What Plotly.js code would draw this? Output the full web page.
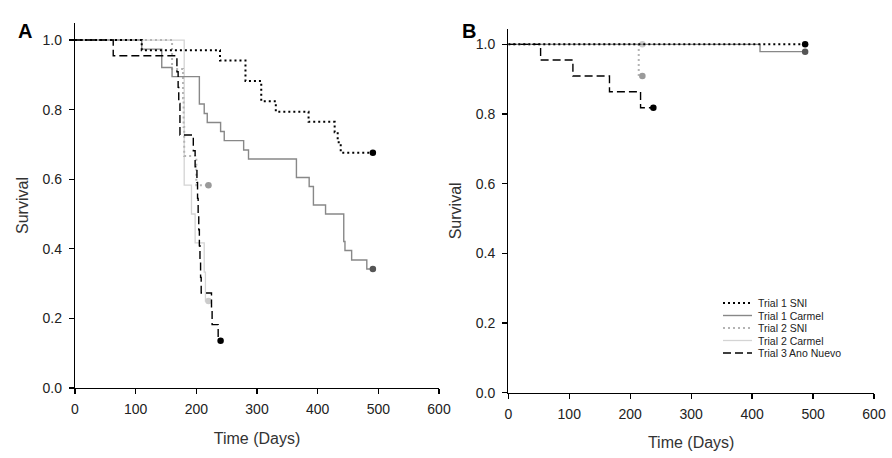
<!DOCTYPE html>
<html>
<head>
<meta charset="utf-8">
<script src="https://cdn.plot.ly/plotly-3.0.1.min.js"></script>
<style>
  html, body { margin: 0; padding: 0; background: #fff; }
  #chart { width: 892px; height: 458px; }
</style>
</head>
<body>
<div id="chart"></div>
<script>
// Kaplan-Meier steps (days, survival)
// Panel A
const a_sni1_t = [0, 110, 239, 281, 307, 331, 385, 428, 433, 438, 491];
const a_sni1_s = [1, 0.971, 0.941, 0.882, 0.824, 0.794, 0.765, 0.735, 0.706, 0.676, 0.676];

const a_car1_t = [0, 110, 143, 160, 205, 213, 218, 240, 246, 278, 286, 365, 386, 393, 413, 443, 445, 456, 481, 491];
const a_car1_s = [1, 0.974, 0.921, 0.895, 0.816, 0.789, 0.763, 0.737, 0.711, 0.684, 0.658, 0.605, 0.579, 0.526, 0.5, 0.421, 0.395, 0.368, 0.342, 0.342];

const a_sni2_t = [0, 160, 178, 179, 180, 200, 220];
const a_sni2_s = [1, 0.917, 0.833, 0.75, 0.667, 0.583, 0.583];

const a_car2_t = [0, 180, 192, 198, 213, 215, 220];
const a_car2_s = [1, 0.583, 0.5, 0.417, 0.333, 0.25, 0.25];

const a_ano3_t = [0, 63, 168, 170, 171, 173, 195, 198, 201, 202, 203, 204, 205, 206, 207, 208, 225, 226, 236, 240];
const a_ano3_s = [1, 0.955, 0.909, 0.864, 0.818, 0.727, 0.682, 0.636, 0.591, 0.545, 0.5, 0.455, 0.409, 0.364, 0.318, 0.273, 0.227, 0.182, 0.136, 0.136];

// Panel B
const b_sni1_t = [0, 487];
const b_sni1_s = [1, 1];

const b_car1_t = [0, 413, 487];
const b_car1_s = [1, 0.979, 0.979];

const b_sni2_t = [0, 214, 220];
const b_sni2_s = [1, 0.909, 0.909];

const b_car2_t = [0, 220];
const b_car2_s = [1, 1];

const b_ano3_t = [0, 53, 106, 166, 217, 238];
const b_ano3_s = [1, 0.955, 0.909, 0.864, 0.818, 0.818];

const seriesNames = ["Trial 1 SNI", "Trial 1 Carmel", "Trial 2 SNI", "Trial 2 Carmel", "Trial 3 Ano Nuevo"];

// line style per series, same order as the names
const styles = [
	{ line: { color: "#000000", width: 2, dash: "2px,3px" }, mark: "#000000" },
	{ line: { color: "#888888", width: 1.4 }, mark: "#555555" },
	{ line: { color: "#b4b4b4", width: 2, dash: "2px,3px" }, mark: "#9a9a9a" },
	{ line: { color: "#d4d4d4", width: 1.3 }, mark: "#cccccc" },
	{ line: { color: "#000000", width: 1.4, dash: "8px,4px" }, mark: "#000000" },
];

const W = 892, H = 458;
const px = (x) => x / W;
const py = (y) => 1 - y / H;

function kmTraces(t, s, i, xa, ya) {
	const st = styles[i];
	return [
		{
			x: t, y: s, xaxis: xa, yaxis: ya,
			type: "scatter", mode: "lines",
			line: Object.assign({ shape: "hv" }, st.line),
			name: seriesNames[i], showlegend: false, hoverinfo: "skip",
		},
		{
			// censor mark at the end of the curve
			x: [t[t.length - 1]], y: [s[s.length - 1]], xaxis: xa, yaxis: ya,
			type: "scatter", mode: "markers",
			marker: { color: st.mark, size: 6.5, symbol: "circle" },
			showlegend: false, hoverinfo: "skip", cliponaxis: false,
		},
	];
}

const data = [].concat(
	kmTraces(a_car2_t, a_car2_s, 3, "x", "y"),
	kmTraces(a_sni2_t, a_sni2_s, 2, "x", "y"),
	kmTraces(a_car1_t, a_car1_s, 1, "x", "y"),
	kmTraces(a_sni1_t, a_sni1_s, 0, "x", "y"),
	kmTraces(a_ano3_t, a_ano3_s, 4, "x", "y"),
	kmTraces(b_car2_t, b_car2_s, 3, "x2", "y2"),
	kmTraces(b_sni2_t, b_sni2_s, 2, "x2", "y2"),
	kmTraces(b_car1_t, b_car1_s, 1, "x2", "y2"),
	kmTraces(b_sni1_t, b_sni1_s, 0, "x2", "y2"),
	kmTraces(b_ano3_t, b_ano3_s, 4, "x2", "y2")
);

const fontFam = "Liberation Sans, Arial, sans-serif";
const tickFont = { family: fontFam, size: 14, color: "#222" };
const titleFont = { family: fontFam, size: 16, color: "#333" };

function xAxis(domain, anchor) {
	return {
		domain: domain, anchor: anchor,
		range: [0, 600], dtick: 100, tick0: 0,
		showgrid: false, zeroline: false,
		showline: true, linecolor: "#000", linewidth: 1.2,
		ticks: "outside", ticklen: 5, tickwidth: 1.2, tickcolor: "#000",
		tickfont: tickFont, ticklabelstandoff: 3,
		title: { text: "Time (Days)", font: titleFont, standoff: 16 },
		fixedrange: true,
	};
}

function yAxis(domain, anchor, top) {
	return {
		domain: domain, anchor: anchor,
		range: [0, top],
		tickvals: [0, 0.2, 0.4, 0.6, 0.8, 1.0], tickformat: ".1f",
		showgrid: false, zeroline: false,
		showline: true, linecolor: "#000", linewidth: 1.2,
		ticks: "outside", ticklen: 5, tickwidth: 1.2, tickcolor: "#000",
		tickfont: tickFont, ticklabelstandoff: 4,
		title: { text: "Survival", font: titleFont, standoff: 10 },
		fixedrange: true,
	};
}

// legend drawn by hand so rows sit as tight as in the original
const legX0 = 723, legX1 = 752, legTextX = 757;
const legRows = [303, 315.5, 328, 340.5, 353];
const shapes = [];
const annotations = [
	{ text: "<b>A</b>", x: px(16), y: py(18), xref: "paper", yref: "paper", showarrow: false,
	  font: { family: fontFam, size: 20, color: "#000" } },
	{ text: "<b>B</b>", x: px(469), y: py(18), xref: "paper", yref: "paper", showarrow: false,
	  font: { family: fontFam, size: 20, color: "#000" } },
];
for (let i = 0; i < seriesNames.length; i++) {
	shapes.push({
		type: "line", xref: "paper", yref: "paper",
		x0: px(legX0), x1: px(legX1), y0: py(legRows[i]), y1: py(legRows[i]),
		line: styles[i].line,
	});
	annotations.push({
		text: seriesNames[i], xref: "paper", yref: "paper",
		x: px(legTextX), y: py(legRows[i]), xanchor: "left", yanchor: "middle",
		borderpad: 0, showarrow: false,
		font: { family: fontFam, size: 10.5, color: "#222" },
	});
}

const layout = {
	width: W,
	height: H,
	paper_bgcolor: "#fff",
	plot_bgcolor: "#fff",
	margin: { l: 0, r: 0, t: 0, b: 0 },
	showlegend: false,
	xaxis: xAxis([px(75), px(439)], "y"),
	yaxis: yAxis([1 - 388 / H, 1 - 23 / H], "x", 1.049),
	xaxis2: xAxis([px(508.3), px(874)], "y2"),
	yaxis2: yAxis([1 - 392.7 / H, 1 - 29 / H], "x2", 1.044),
	shapes: shapes,
	annotations: annotations,
};

const config = {
	displayModeBar: false,
	staticPlot: true,
};

Plotly.newPlot("chart", data, layout, config);
</script>
</body>
</html>
